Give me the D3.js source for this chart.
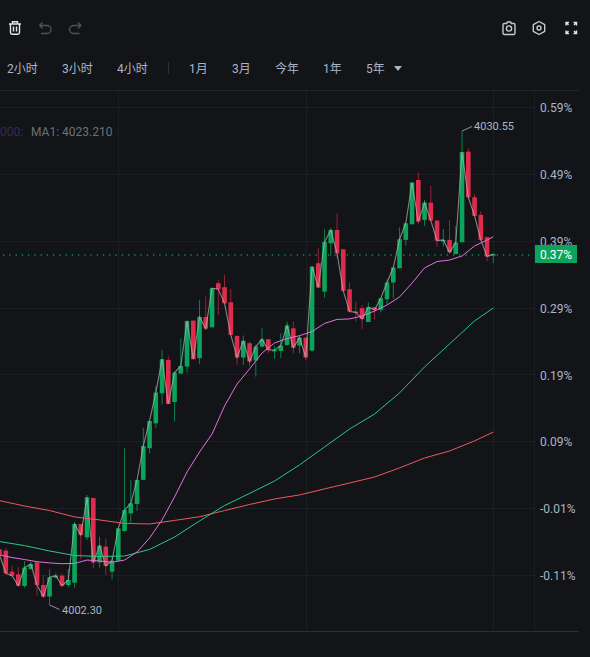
<!DOCTYPE html>
<html>
<head>
<meta charset="utf-8">
<script src="https://cdn.jsdelivr.net/npm/d3@7"></script>
<style>
  html, body { margin: 0; padding: 0; background: #121418; overflow: hidden; }
  svg { display: block; font-family: Roboto, "Noto Sans CJK SC", sans-serif; }
</style>
</head>
<body>
<div id="chart"></div>
<script>
const open = [4005.62,4005.54,4004.29,4004.13,4003.43,4004.45,4004.84,4003.49,4002.80,4003.93,4004.05,4003.49,4003.63,4007.13,4006.33,4008.68,4004.84,4005.78,4004.29,4004.94,
  4006.71,4007.76,4008.32,4009.76,4011.64,4013.13,4014.92,4016.91,4014.40,4016.09,4016.51,4019.25,4017.01,4019.47,4018.85,4021.48,4021.24,4020.34,4018.34,4017.05,
  4017.90,4016.87,4017.70,4018.14,4017.48,4017.44,4017.80,4018.79,4017.76,4018.24,4017.46,4022.67,4020.98,4023.86,4024.65,4023.50,4021.12,4019.79,4019.99,4019.17,
  4020.05,4019.89,4020.52,4021.52,4022.37,4024.06,4024.99,4027.63,4025.25,4026.28,4025.21,4024.02,4024.06,4023.22,4023.92,4029.32,4026.60,4025.55,4024.22,4023.12];
const high = [4005.68,4005.68,4004.63,4004.59,4004.92,4004.88,4004.88,4004.09,4004.43,4004.19,4004.19,4004.45,4007.23,4007.13,4008.86,4008.68,4006.37,4006.27,4005.18,4006.87,
  4011.64,4009.75,4009.75,4012.87,4013.27,4015.36,4017.50,4017.14,4016.21,4018.20,4019.23,4019.25,4020.48,4020.68,4021.18,4021.67,4021.97,4021.14,4018.34,4018.36,
  4018.00,4017.80,4018.79,4018.14,4017.74,4018.50,4019.19,4019.19,4018.40,4018.24,4022.47,4023.56,4024.69,4024.75,4025.65,4023.50,4021.54,4020.38,4020.18,4020.34,
  4020.05,4020.58,4021.71,4022.41,4024.81,4025.05,4027.48,4028.07,4026.44,4027.28,4025.25,4024.71,4025.25,4024.89,4030.55,4029.52,4026.80,4025.75,4024.26,4023.26];
const low = [4005.22,4004.15,4003.99,4003.43,4003.33,4004.39,4002.86,4002.80,4002.30,4003.89,4003.35,4003.35,4003.33,4005.02,4006.17,4004.49,4004.53,4004.09,4003.83,4004.88,
  4006.67,4007.17,4007.90,4009.76,4011.34,4012.87,4014.26,4014.26,4013.23,4016.09,4016.15,4016.95,4016.67,4018.69,4018.85,4019.59,4020.28,4018.40,4016.61,4016.61,
  4016.51,4015.91,4017.66,4017.30,4016.97,4017.01,4017.74,4017.30,4017.30,4016.87,4017.40,4021.18,4020.62,4023.07,4022.97,4020.98,4019.73,4019.19,4018.75,4019.17,
  4019.33,4019.73,4020.24,4020.58,4022.37,4023.70,4024.99,4025.01,4024.89,4025.21,4023.66,4023.66,4023.26,4023.20,4023.92,4026.54,4025.49,4024.02,4022.77,4022.67];
const close = [4005.28,4004.19,4004.05,4003.45,4004.53,4004.74,4003.49,4002.80,4003.95,4004.05,4003.45,4003.79,4007.13,4006.47,4008.72,4004.84,4005.84,4004.63,4004.94,4006.87,
  4007.96,4008.36,4009.75,4011.78,4013.27,4014.96,4016.95,4014.28,4016.15,4016.55,4019.23,4016.95,4019.47,4018.77,4021.18,4021.12,4020.28,4018.40,4017.05,4018.04,
  4016.81,4017.70,4018.14,4017.50,4017.50,4017.76,4018.95,4017.64,4018.24,4017.05,4022.47,4021.22,4023.94,4024.65,4023.26,4021.02,4019.79,4019.75,4019.35,4020.05,
  4019.89,4020.58,4021.52,4022.41,4024.10,4025.05,4027.48,4025.15,4026.28,4025.21,4024.02,4024.06,4023.32,4023.90,4029.30,4026.60,4025.49,4024.06,4023.07,4023.21];

const maPinkIndex = [0,2,4,6,8,10,12,14,16,18,20,22,24,26,28,30,32,34,36,38,40,42,44,46,48,50,52,54,56,58,60,62,64,66,68,70,72,74,76,78,79];
const maPink = [4005.28,4005.13,4005.01,4004.88,4004.81,4004.76,4004.78,4004.98,4004.92,4004.85,4004.98,4005.46,4006.29,4007.37,4008.74,4010.23,4011.42,4012.49,4014.16,4015.47,
  4016.37,4017.32,4017.92,4018.18,4018.35,4018.60,4019.08,4019.32,4019.35,4019.52,4019.82,4020.18,4020.66,4021.49,4022.39,4022.77,4022.86,4023.10,4023.70,4024.05,4024.25];
const maSlowIndex = [0,4,8,12,16,20,24,28,32,36,40,44,48,52,56,60,64,68,72,76,79];
const maGreen = [4006.08,4005.84,4005.52,4005.25,4005.19,4005.22,4005.61,4006.35,4007.31,4008.23,4008.95,4009.69,4010.65,4011.72,4012.79,4013.68,4014.94,4016.49,4017.86,4019.23,4020.00];
const maRed = [4008.52,4008.20,4007.93,4007.55,4007.37,4007.16,4007.13,4007.34,4007.56,4007.93,4008.29,4008.62,4008.86,4009.22,4009.57,4009.93,4010.47,4011.06,4011.48,4012.08,4012.61];

const pctTicks = [0.59,0.49,0.39,0.29,0.19,0.09,-0.01,-0.11];
const gridIndex = [19,49,79];
const tabLabels = ["2小时","3小时","4小时","1月","3月","今年","1年","5年"];
const tabX = [7,62,117,189,232,275,323,366];
const lastPct = "0.37%";

const width = 590, height = 657;
const UP = "#0ca35a", DOWN = "#df2c4c", UP_WICK = "#0b8049", DOWN_WICK = "#962238";
const LABEL = "#a9b5c6";

const svg = d3.select("#chart").append("svg")
  .attr("width", width)
  .attr("height", height)
  .attr("viewBox", [0, 0, width, height]);

svg.append("rect").attr("width", width).attr("height", height).attr("fill", "#121418");

const x = d3.scaleLinear().domain([0, 79]).range([-0.45, 493.3]);
const y = d3.scaleLinear().domain([4002.30, 4030.55]).range([605, 131]);
const yPct = d3.scaleLinear().domain([-0.11, 0.59]).range([575, 107]);
const bodyW = 4.6;

// grid
const grid = svg.append("g").attr("stroke", "#1b1e24").attr("stroke-width", 1);
grid.selectAll(".h").data(pctTicks).join("line")
  .attr("x1", 0).attr("x2", 534)
  .attr("y1", d => Math.round(yPct(d)) + 0.5).attr("y2", d => Math.round(yPct(d)) + 0.5);
grid.selectAll(".v").data(gridIndex).join("line")
  .attr("x1", d => Math.round(x(d)) + 0.5).attr("x2", d => Math.round(x(d)) + 0.5)
  .attr("y1", 91).attr("y2", 631);
grid.append("line").attr("x1", 534.5).attr("x2", 534.5).attr("y1", 91).attr("y2", 631);
svg.append("line").attr("x1", 0).attr("x2", 579).attr("y1", 90.5).attr("y2", 90.5).attr("stroke", "#22252b");
svg.append("line").attr("x1", 0).attr("x2", 579).attr("y1", 631.5).attr("y2", 631.5).attr("stroke", "#2a2e36");

// last price dots
svg.append("line")
  .attr("x1", 3).attr("x2", 534)
  .attr("y1", 255).attr("y2", 255)
  .attr("stroke", "#0c8f50").attr("stroke-width", 1.3).attr("stroke-dasharray", "1.3 4.95");

// candles
const idx = d3.range(close.length);
const isUp = i => close[i] >= open[i];
svg.append("g").selectAll("line").data(idx).join("line")
  .attr("x1", i => x(i)).attr("x2", i => x(i))
  .attr("y1", i => y(high[i])).attr("y2", i => y(low[i]))
  .attr("stroke", i => isUp(i) ? UP_WICK : DOWN_WICK)
  .attr("stroke-width", 1);
svg.append("g").selectAll("rect").data(idx).join("rect")
  .attr("x", i => x(i) - bodyW / 2)
  .attr("width", bodyW)
  .attr("y", i => y(Math.max(open[i], close[i])))
  .attr("height", i => Math.max(1.5, Math.abs(y(open[i]) - y(close[i]))))
  .attr("fill", i => isUp(i) ? UP : DOWN);

// moving averages, MA1 is just the closes
const line = d3.line().x(d => x(d[0])).y(d => y(d[1]));
const zip = (a, b) => a.map((v, i) => [v, b[i]]);
svg.append("path").attr("d", line(zip(idx, close)))
  .attr("fill", "none").attr("stroke", "#b4b4b4").attr("stroke-opacity", 0.7).attr("stroke-width", 1.1);
svg.append("path").attr("d", line(zip(maSlowIndex, maRed)))
  .attr("fill", "none").attr("stroke", "#f0585c").attr("stroke-width", 1);
svg.append("path").attr("d", line(zip(maSlowIndex, maGreen)))
  .attr("fill", "none").attr("stroke", "#28c883").attr("stroke-width", 1);
svg.append("path").attr("d", line(zip(maPinkIndex, maPink)))
  .attr("fill", "none").attr("stroke", "#e86fe0").attr("stroke-width", 1);

// high / low callouts
const hiI = d3.maxIndex(high), loI = d3.minIndex(low);
svg.append("path")
  .attr("d", d3.line()([[x(hiI), y(high[hiI])], [x(hiI) + 10, y(high[hiI]) - 4.5]]))
  .attr("stroke", "#8c95a3").attr("fill", "none");
svg.append("text").attr("x", x(hiI) + 12).attr("y", y(high[hiI]) - 1)
  .attr("font-size", 11).attr("fill", LABEL).text(high[hiI].toFixed(2));
svg.append("path")
  .attr("d", d3.line()([[x(loI), y(low[loI])], [x(loI) + 10, y(low[loI]) + 4.5]]))
  .attr("stroke", "#8c95a3").attr("fill", "none");
svg.append("text").attr("x", x(loI) + 12.5).attr("y", y(low[loI]) + 9)
  .attr("font-size", 11).attr("fill", LABEL).text(low[loI].toFixed(2));

// legend
svg.append("text").attr("x", 0).attr("y", 136).attr("font-size", 12).attr("fill", "#352a5c").text("000:");
svg.append("text").attr("x", 31).attr("y", 136).attr("font-size", 12).attr("fill", "#6f7175")
  .text("MA1: " + close[79].toFixed(3));

// right axis
const axis = d3.axisRight(yPct).tickValues(pctTicks).tickSize(0).tickPadding(0)
  .tickFormat(d => d.toFixed(2) + "%");
const axisG = svg.append("g").attr("transform", "translate(540,0.8)").call(axis);
axisG.select(".domain").remove();
axisG.selectAll("text").attr("font-size", 12).attr("fill", LABEL)
  .attr("font-family", "Roboto, sans-serif");

svg.append("rect").attr("x", 535).attr("y", 245).attr("width", 42).attr("height", 18).attr("fill", UP);
svg.append("text").attr("x", 556).attr("y", 258.5).attr("text-anchor", "middle")
  .attr("font-size", 12).attr("fill", "#ffffff").text(lastPct);

// toolbar
svg.append("g").selectAll("text").data(tabLabels).join("text")
  .attr("x", (d, i) => tabX[i]).attr("y", 73)
  .attr("font-size", 12).attr("fill", LABEL).text(d => d);
svg.append("line").attr("x1", 168.5).attr("x2", 168.5).attr("y1", 62).attr("y2", 74).attr("stroke", "#2c3038");
svg.append("path").attr("d", "M394,66 h8 l-4,5 z").attr("fill", LABEL);

// icons
const icons = svg.append("g").attr("fill", "none").attr("stroke-width", 1.4);
icons.append("path").attr("stroke", "#e2e5ea")
  .attr("d", "M9,24 h12 M12.5,24 v-2.2 h5 v2.2 M10.5,24 v8.5 q0,1.7 1.7,1.7 h5.6 q1.7,0 1.7,-1.7 v-8.5 M13.5,26.5 v5 M16.5,26.5 v5");
const undo = icons.append("g").attr("stroke", "#4f5258");
undo.append("path").attr("d", "M39.5,25.5 h7.5 a4,4 0 0 1 0,8 h-6 M39.5,25.5 l3,-3 M39.5,25.5 l3,3");
undo.append("path").attr("d", "M81,25.5 h-7.5 a4,4 0 0 0 0,8 h6 M81,25.5 l-3,-3 M81,25.5 l-3,3");
const tools = icons.append("g").attr("stroke", "#c4c8cf");
tools.append("path").attr("d", "M503,25 q0,-1.5 1.5,-1.5 h2 l1,-1.5 h3 l1,1.5 h2 q1.5,0 1.5,1.5 v8 q0,1.5 -1.5,1.5 h-9 q-1.5,0 -1.5,-1.5 z");
tools.append("circle").attr("cx", 509).attr("cy", 28.5).attr("r", 2.6);
tools.append("path").attr("stroke-linejoin", "round")
  .attr("d", "M539,21.5 l5.7,3.2 v6.6 l-5.7,3.2 l-5.7,-3.2 v-6.6 z");
tools.append("circle").attr("cx", 539).attr("cy", 28).attr("r", 2);
tools.append("path").attr("stroke", "#dfe3ea").attr("stroke-width", 1.4)
  .attr("d", "M566,25.5 v-3 h3 M566,22.5 l2.5,2.5 M576.5,25.5 v-3 h-3 M576.5,22.5 l-2.5,2.5 M566,30.5 v3 h3 M566,33.5 l2.5,-2.5 M576.5,30.5 v3 h-3 M576.5,33.5 l-2.5,-2.5");
</script>
</body>
</html>
